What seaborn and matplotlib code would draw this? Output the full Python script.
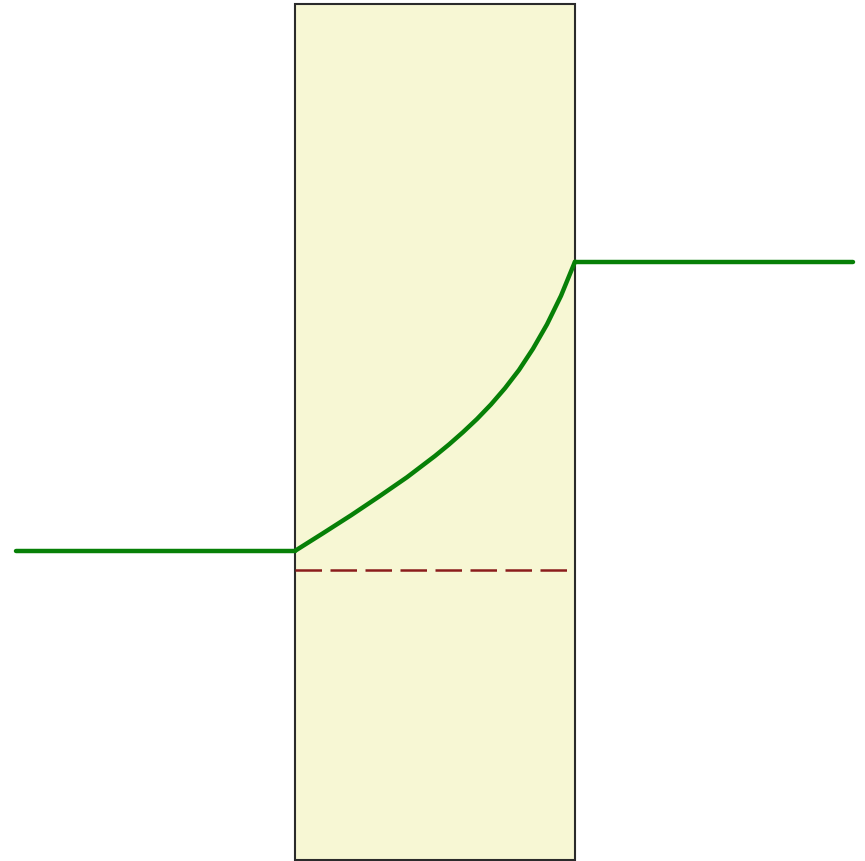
import numpy as np
import pandas as pd
import matplotlib.pyplot as plt
import seaborn as sns
from matplotlib.patches import Rectangle

sns.set_style("white")

# barrier region (x from 0 to 1), height of the box
barrier_x = [0.0, 1.0]
barrier_top = 3.057

# green profile: flat on the left, curve inside the box, flat on the right
left_x = [-0.996, 0.0]
left_y = [1.104, 1.104]
curve_x = [0.0, 0.1, 0.2, 0.3, 0.4, 0.5, 0.55, 0.6, 0.65, 0.7,
           0.75, 0.8, 0.85, 0.9, 0.95, 1.0]
curve_y = [1.104, 1.167, 1.231, 1.298, 1.367, 1.443, 1.484, 1.528, 1.575, 1.627,
           1.685, 1.750, 1.826, 1.913, 2.015, 2.137]
right_x = [1.0, 1.993]
right_y = [2.137, 2.137]

# dashed reference level inside the box
dash_x = [0.0, 1.0]
dash_y = [1.036, 1.036]

fig = plt.figure(figsize=(8.65, 8.62), dpi=100)
ax = fig.add_axes([0, 0, 1, 1])

ax.add_patch(Rectangle((barrier_x[0], 0), barrier_x[1] - barrier_x[0], barrier_top,
                       facecolor="#f7f7d4", edgecolor="#2b2b2b", linewidth=1.5, zorder=1))

profile = pd.concat([
    pd.DataFrame({"x": left_x, "y": left_y, "part": "left"}),
    pd.DataFrame({"x": curve_x, "y": curve_y, "part": "curve"}),
    pd.DataFrame({"x": right_x, "y": right_y, "part": "right"}),
])
for part, d in profile.groupby("part"):
    sns.lineplot(data=d, x="x", y="y", ax=ax, color="#078007", linewidth=3.2,
                 sort=False, estimator=None, zorder=3)
for ln in ax.lines:
    ln.set_solid_joinstyle("round")

sns.lineplot(x=dash_x, y=dash_y, ax=ax, color="#8b1c1c", linewidth=1.8,
             dashes=False, zorder=2).lines[-1].set_dashes((10.6, 3.4))

ax.set_xlim(-295 / 280, 570 / 280)
ax.set_ylim(-1 / 280, 861 / 280)
ax.set_axis_off()

fig.savefig("out.png", dpi=100)
